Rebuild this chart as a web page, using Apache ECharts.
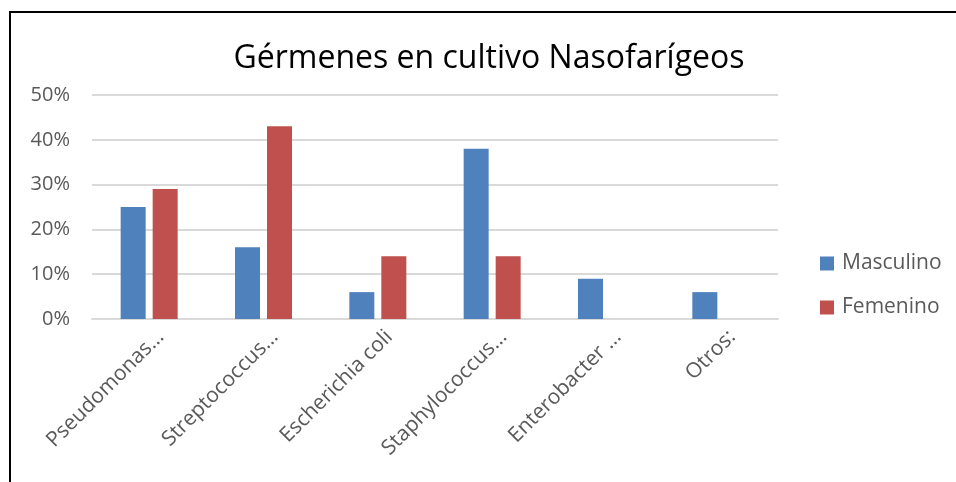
<!DOCTYPE html>
<html>
<head>
<meta charset="utf-8">
<script src="https://cdn.jsdelivr.net/npm/echarts@6/dist/echarts.min.js"></script>
<style>
  html, body { margin: 0; padding: 0; background: #fff; }
  #main {
    position: absolute; left: 9px; top: 11px;
    width: 947px; height: 471px;
    border-top: 2px solid #000; border-left: 2px solid #000;
  }
</style>
</head>
<body>
<div id="main"></div>
<script>
// datos
var categorias = ["Pseudomonas…", "Streptococcus…", "Escherichia coli", "Staphylococcus…", "Enterobacter …", "Otros:"];
var masculino = [25, 16, 6, 38, 9, 6];
var femenino = [29, 43, 14, 14, 0, 0];
var ticksY = [0, 10, 20, 30, 40, 50];

var myChart = echarts.init(document.getElementById("main"));
var font = "'Open Sans', 'Noto Sans', sans-serif";

var option = {
  animation: false,
  textStyle: { fontFamily: font },
  title: {
    text: "Gérmenes en cultivo Nasofarígeos",
    left: 478, top: 30, textAlign: "center", padding: 0,
    textStyle: { fontFamily: font, fontSize: 32, fontWeight: "normal", color: "#000" }
  },
  grid: { left: 81, right: 947 - 767, top: 82, bottom: 471 - 306, containLabel: false },
  legend: {
    orient: "vertical",
    left: 809, top: 240, padding: 0,
    itemWidth: 14, itemHeight: 14, itemGap: 23,
    icon: "rect",
    textStyle: { fontFamily: font, fontSize: 21, color: "#595959", padding: [0, 0, 0, 3] },
    data: ["Masculino", "Femenino"]
  },
  xAxis: {
    type: "category",
    data: categorias,
    axisLine: { show: true, lineStyle: { color: "#d9d9d9", width: 2 } },
    axisTick: { show: false },
    axisLabel: {
      interval: 0, rotate: 45, margin: 26, padding: [0, -16, 0, 0],
      color: "#595959", fontSize: 21, fontFamily: font
    }
  },
  yAxis: {
    type: "value",
    min: ticksY[0], max: ticksY[ticksY.length - 1], interval: 10,
    axisLine: { show: false },
    axisTick: { show: false },
    axisLabel: { formatter: "{value}%", color: "#595959", fontSize: 20, fontFamily: font, margin: 22 },
    splitLine: { show: true, lineStyle: { color: "#d9d9d9", width: 2 } }
  },
  series: [
    {
      name: "Masculino", type: "bar",
      barWidth: 25, barGap: "28%", barCategoryGap: "50%",
      itemStyle: { color: "#4F81BD" },
      data: masculino
    },
    {
      name: "Femenino", type: "bar",
      barWidth: 25,
      itemStyle: { color: "#C0504D" },
      data: femenino
    }
  ]
};
myChart.setOption(option);
</script>
</body>
</html>
